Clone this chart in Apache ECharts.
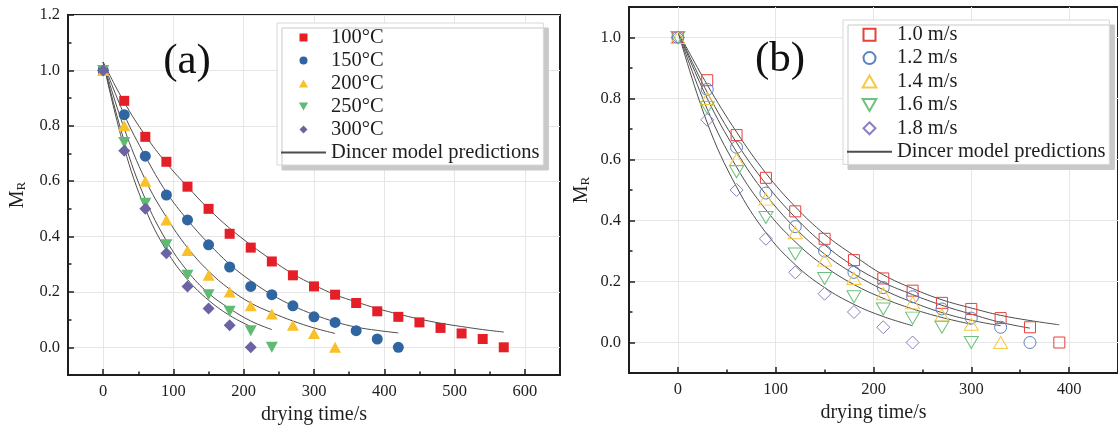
<!DOCTYPE html>
<html>
<head>
<meta charset="utf-8">
<script src="https://cdn.jsdelivr.net/npm/echarts@6/dist/echarts.min.js"></script>
<style>
html,body{margin:0;padding:0;background:#fff;}
#c{width:1118px;height:431px;}
</style>
</head>
<body>
<div id="c"></div>
<script>
// ---------- data ----------
// panel (a): drying temperature
const timeA = [0,30,60,90,120,150,180,210,240,270,300,330,360,390,420,450,480,510,540,570];
const namesA = ['100°C','150°C','200°C','250°C','300°C'];
const mr100 = [1.00,0.89,0.76,0.67,0.58,0.50,0.41,0.36,0.31,0.26,0.22,0.19,0.16,0.13,0.11,0.09,0.07,0.05,0.03,0.00];
const mr150 = [1.00,0.84,0.69,0.55,0.46,0.37,0.29,0.22,0.19,0.15,0.11,0.09,0.06,0.03,0.00];
const mr200 = [1.00,0.80,0.60,0.46,0.35,0.26,0.20,0.15,0.12,0.08,0.05,0.00];
const mr250 = [1.00,0.74,0.52,0.37,0.26,0.19,0.13,0.06,0.00];
const mr300 = [1.00,0.71,0.50,0.34,0.22,0.14,0.08,0.00];
const fit100 = [1.03,0.885,0.765,0.665,0.58,0.50,0.43,0.37,0.315,0.265,0.225,0.19,0.164,0.14,0.12,0.102,0.087,0.075,0.064,0.055];
const fit150 = [1.03,0.84,0.69,0.56,0.46,0.375,0.30,0.24,0.19,0.15,0.118,0.092,0.073,0.061,0.052];
const fit200 = [1.03,0.79,0.605,0.47,0.36,0.275,0.21,0.16,0.125,0.095,0.07,0.05];
const fit250 = [1.03,0.745,0.535,0.385,0.275,0.195,0.14,0.095,0.064];
const fit300 = [1.03,0.72,0.50,0.35,0.245,0.17,0.115,0.075];

// panel (b): air velocity
const timeB = [0,30,60,90,120,150,180,210,240,270,300,330,360,390];
const namesB = ['1.0 m/s','1.2 m/s','1.4 m/s','1.6 m/s','1.8 m/s'];
const mr10 = [1.00,0.86,0.68,0.54,0.43,0.34,0.27,0.21,0.17,0.13,0.11,0.08,0.05,0.00];
const mr12 = [1.00,0.83,0.64,0.49,0.38,0.30,0.23,0.18,0.15,0.11,0.08,0.05,0.00];
const mr14 = [1.00,0.80,0.60,0.47,0.36,0.27,0.21,0.16,0.13,0.09,0.06,0.00];
const mr16 = [1.00,0.77,0.56,0.41,0.29,0.21,0.15,0.11,0.08,0.05,0.00];
const mr18 = [1.00,0.73,0.50,0.34,0.23,0.16,0.10,0.05,0.00];
const fit10 = [1.02,0.845,0.69,0.555,0.445,0.355,0.285,0.222,0.177,0.14,0.113,0.089,0.072,0.058];
const fit12 = [1.02,0.82,0.655,0.52,0.41,0.32,0.25,0.197,0.157,0.122,0.093,0.066,0.047];
const fit14 = [1.02,0.80,0.625,0.485,0.375,0.29,0.225,0.173,0.132,0.098,0.073,0.055];
const fit16 = [1.02,0.765,0.575,0.435,0.33,0.25,0.19,0.145,0.11,0.082,0.06];
const fit18 = [1.02,0.72,0.51,0.36,0.255,0.18,0.125,0.085,0.055];

const modelName = 'Dincer model predictions';
const xTicksA = [0,100,200,300,400,500,600];
const xMinorA = [-50,50,150,250,350,450,550,650];
const yTicksA = [0,0.2,0.4,0.6,0.8,1.0,1.2];
const yMinorA = [-0.1,0.1,0.3,0.5,0.7,0.9,1.1];
const xTicksB = [0,100,200,300,400];
const xMinorB = [-50,50,150,250,350,450];
const yTicksB = [0,0.2,0.4,0.6,0.8,1.0];
const yMinorB = [-0.1,0.1,0.3,0.5,0.7,0.9,1.1];

// ---------- build ----------
const serif = "'Liberation Serif','Times New Roman',serif";
const ink = '#1e1e1e';
const pairs = (t, arr) => arr.map((v, i) => [t[i], v]);

function mainAxis(dim, gridIndex, min, max, ticks, fmt, nameCfg) {
  return Object.assign({
    type: 'value', gridIndex, min, max,
    position: dim === 'x' ? 'bottom' : 'left',
    axisLine: {show: true, onZero: false, lineStyle: {color: ink, width: 2}},
    axisTick: {show: true, inside: true, length: 6, customValues: ticks, lineStyle: {color: ink, width: 1.5}},
    axisLabel: {show: true, customValues: ticks, formatter: fmt, margin: 8,
      fontFamily: serif, fontSize: 16.5, color: ink},
    splitLine: {show: true, lineStyle: {color: '#e6e6e6', width: 1}},
    nameLocation: 'middle'
  }, nameCfg);
}
function minorAxis(dim, gridIndex, min, max, ticks) {
  return {
    type: 'value', gridIndex, min, max,
    position: dim === 'x' ? 'bottom' : 'left',
    axisLine: {show: false, onZero: false},
    axisTick: {show: true, inside: true, length: 3.5, customValues: ticks, lineStyle: {color: ink, width: 1.5}},
    axisLabel: {show: false},
    splitLine: {show: false}
  };
}
const xName = {name: 'drying time/s', nameTextStyle: {fontFamily: serif, fontSize: 20, color: ink}};
const yName = {name: '{m|M}{r|R}', nameTextStyle: {fontFamily: serif, color: ink,
  rich: {m: {fontFamily: serif, fontSize: 20, lineHeight: 23, verticalAlign: 'bottom', color: ink},
         r: {fontFamily: serif, fontSize: 13, lineHeight: 15, verticalAlign: 'bottom', color: ink}}}};

const xfmt = v => String(Math.round(v));
const yfmt = v => v.toFixed(1);

const colA = ['#e51f27', '#2f65a0', '#f8c12a', '#5fba72', '#6a64a4'];
const symA = [['rect', [10,10], 0], ['circle', [11,11], 0], ['triangle', [12,11], 0], ['triangle', [12,11], 180], ['diamond', [12,12], 0]];
const colB = ['#e8403a', '#5b82c0', '#f7c945', '#6cc27d', '#8a80c0'];
const symB = [['rect', [11,11], 0], ['circle', [12,12], 0], ['triangle', [14,12], 0], ['triangle', [14,12], 180], ['diamond', [13,13], 0]];
// legend glyphs (kept square, not stretched to the legend item width)
const legendIcons = [
  'path://M0,0L10,0L10,10L0,10Z',
  'path://M5,0A5,5,0,1,1,5,10A5,5,0,1,1,5,0Z',
  'path://M5,0L10,8.7L0,8.7Z',
  'path://M0,0L10,0L5,8.7Z',
  'path://M5,0L10,5L5,10L0,5Z'
];

const mrA = [mr100, mr150, mr200, mr250, mr300];
const fitA = [fit100, fit150, fit200, fit250, fit300];
const mrB = [mr10, mr12, mr14, mr16, mr18];
const fitB = [fit10, fit12, fit14, fit16, fit18];

const series = [];
fitA.forEach(f => series.push({type: 'line', name: modelName, xAxisIndex: 0, yAxisIndex: 0,
  data: pairs(timeA, f), smooth: 0.4, symbol: 'none', z: 2, silent: true,
  lineStyle: {color: '#4d4d4d', width: 1}, itemStyle: {color: '#4d4d4d'}}));
fitB.forEach(f => series.push({type: 'line', name: modelName, xAxisIndex: 2, yAxisIndex: 2,
  data: pairs(timeB, f), smooth: 0.4, symbol: 'none', z: 2, silent: true,
  lineStyle: {color: '#4d4d4d', width: 1}, itemStyle: {color: '#4d4d4d'}}));
mrA.forEach((m, i) => series.push({type: 'scatter', name: namesA[i], xAxisIndex: 0, yAxisIndex: 0,
  data: pairs(timeA, m), symbol: symA[i][0], symbolSize: symA[i][1], symbolRotate: symA[i][2], z: 3,
  itemStyle: {color: colA[i], opacity: 1}}));
mrB.forEach((m, i) => series.push({type: 'scatter', name: namesB[i], xAxisIndex: 2, yAxisIndex: 2,
  data: pairs(timeB, m), symbol: symB[i][0], symbolSize: symB[i][1], symbolRotate: symB[i][2], z: 3,
  itemStyle: {color: 'rgba(255,255,255,0)', borderColor: colB[i], borderWidth: 1, opacity: 1}}));

const legendBase = {
  orient: 'vertical', itemWidth: 45, itemGap: 0, symbolKeepAspect: true, symbolRotate: 0,
  backgroundColor: '#fff', borderColor: '#d8d8d8', borderWidth: 1,
  shadowColor: '#c9c9c9', shadowBlur: 0, shadowOffsetX: 5, shadowOffsetY: 5,
  textStyle: {fontFamily: serif, fontSize: 20.5, color: ink, lineHeight: 23},
  selectedMode: false
};
const modelItem = {name: modelName, itemStyle: {opacity: 0}};
const legendItems = names => names.map((n, i) => ({name: n, icon: legendIcons[i]})).concat([modelItem]);

const option = {
  animation: false,
  backgroundColor: '#fff',
  grid: [
    {left: 68, top: 15, width: 492, height: 360, show: true, borderColor: ink, borderWidth: 2, backgroundColor: 'transparent'},
    {left: 629, top: 7, width: 492, height: 366, show: true, borderColor: ink, borderWidth: 2, backgroundColor: 'transparent'}
  ],
  xAxis: [
    mainAxis('x', 0, -50, 650, xTicksA, xfmt, Object.assign({nameGap: 28}, xName)),
    minorAxis('x', 0, -50, 650, xMinorA),
    mainAxis('x', 1, -50, 450, xTicksB, xfmt, Object.assign({nameGap: 30}, xName)),
    minorAxis('x', 1, -50, 450, xMinorB)
  ],
  yAxis: [
    mainAxis('y', 0, -0.1, 1.2, yTicksA, yfmt, Object.assign({nameGap: 40}, yName)),
    minorAxis('y', 0, -0.1, 1.2, yMinorA),
    mainAxis('y', 1, -0.1, 1.1, yTicksB, yfmt, Object.assign({nameGap: 37}, yName)),
    minorAxis('y', 1, -0.1, 1.1, yMinorB)
  ],
  legend: [
    Object.assign({}, legendBase, {left: 277, top: 23, itemHeight: 8, padding: [3, 4, 1, 3],
      data: legendItems(namesA)}),
    Object.assign({}, legendBase, {left: 843, top: 20, itemHeight: 12, padding: [3, 4, 1, 3],
      data: legendItems(namesB), textStyle: Object.assign({}, legendBase.textStyle, {lineHeight: 23.4})})
  ],
  graphic: [
    {type: 'text', x: 187, y: 62, z: 10, style: {text: '(a)', font: '43px ' + serif, fill: '#111', align: 'center', verticalAlign: 'middle'}},
    {type: 'text', x: 780, y: 60, z: 10, style: {text: '(b)', font: '43px ' + serif, fill: '#111', align: 'center', verticalAlign: 'middle'}}
  ],
  series
};
const chart = echarts.init(document.getElementById('c'), null, {renderer: 'canvas'});
chart.setOption(option);
</script>
</body>
</html>
